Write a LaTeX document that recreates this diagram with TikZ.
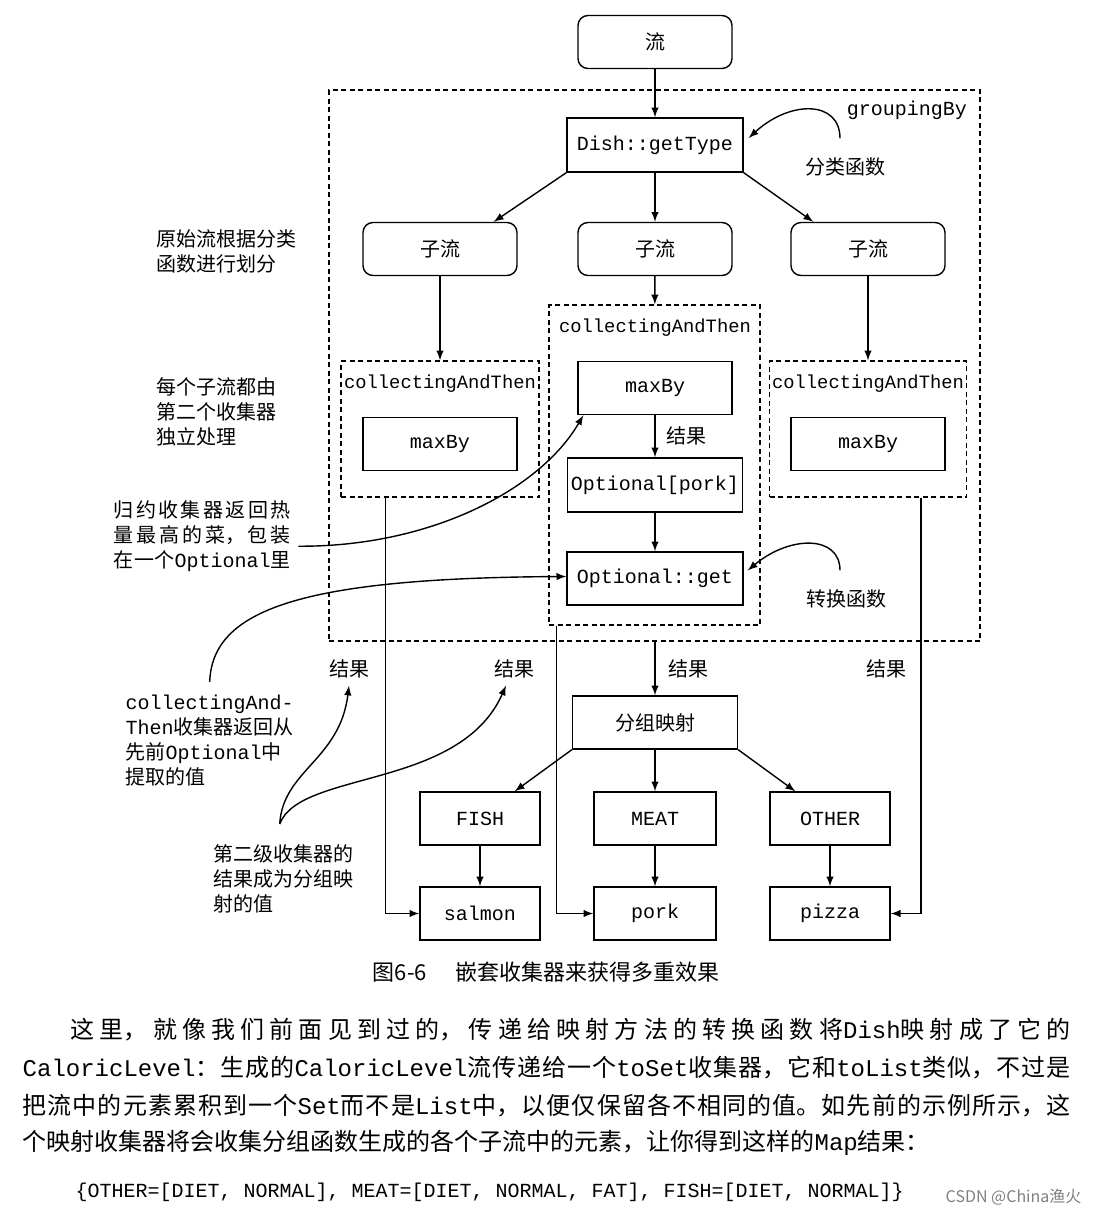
\documentclass[tikz,border=0pt]{standalone}
\usepackage{fontspec}
\setmainfont{Noto Sans CJK SC}
\setmonofont{Liberation Mono}
\XeTeXlinebreaklocale "zh"
\XeTeXlinebreakskip=0pt plus 2pt
\begin{document}
\begin{tikzpicture}[x=0.5pt,y=-0.5pt,line width=0.7pt,font=\fontsize{10}{12.5}\selectfont]
\tikzstyle{box}=[draw,rectangle,inner sep=0pt,minimum width=77pt,minimum height=26.5pt,font=\ttfamily\fontsize{10}{12}\selectfont]
\tikzstyle{rbox}=[box,rounded corners=5pt,font=\fontsize{10}{12}\selectfont]
\tikzstyle{dbox}=[draw,rectangle,inner sep=0pt,line width=0.6pt,dash pattern=on 2.5pt off 1.75pt]
\tikzstyle{code}=[font=\ttfamily\fontsize{9.4}{11}\selectfont]
\tikzstyle{arr}=[->,>=latex]
\tikzstyle{note}=[anchor=north west,inner sep=0pt,align=left]
\tikzstyle{para}=[anchor=west,inner sep=0pt,align=justify,font=\fontsize{12}{15}\selectfont]
\useasboundingbox (0,0) rectangle (1098,1216);

% dashed containers
\node[dbox,minimum width=325.5pt,minimum height=275.5pt] (grp) at (654.5,365.5) {};
\node[dbox,minimum width=99pt,minimum height=68pt] (catL) at (440,429) {};
\node[dbox,minimum width=105.5pt,minimum height=160pt] (catM) at (654.5,465) {};
\node[dbox,minimum width=98.5pt,minimum height=68pt] (catR) at (868,429) {};
\node[code,font=\ttfamily\fontsize{10}{12}\selectfont] (lblG) at (907,110) {groupingBy};
\node[code] (lblL) at (440,384) {collectingAndThen};
\node[code] (lblM) at (655,328) {collectingAndThen};
\node[code] (lblR) at (868,384) {collectingAndThen};

% boxes
\node[rbox] (src) at (655,42) {流};
\node[box,minimum width=88pt,minimum height=27pt] (key) at (655,145) {Dish::getType};
\node[rbox] (subL) at (440,249) {子流};
\node[rbox] (subM) at (655,249) {子流};
\node[rbox] (subR) at (868,249) {子流};
\node[box] (maxL) at (440,444) {maxBy};
\node[box] (maxM) at (655,388) {maxBy};
\node[box] (maxR) at (868,444) {maxBy};
\node[box,minimum width=87.5pt,minimum height=27pt] (opt) at (655,485) {Optional[pork]};
\node[box,minimum width=88pt] (get) at (655,578.5) {Optional::get};
\node[box,minimum width=82.5pt,font=\fontsize{10}{12}\selectfont] (map) at (655,722.5) {分组映射};
\node[box,minimum width=60pt] (fish) at (480,818.5) {FISH};
\node[box,minimum width=61pt] (meat) at (655,818.5) {MEAT};
\node[box,minimum width=60pt] (other) at (830,818.5) {OTHER};
\node[box,minimum width=60pt] (salmon) at (480,913.5) {salmon};
\node[box,minimum width=61pt] (pork) at (655,913.5) {pork};
\node[box,minimum width=60pt] (pizza) at (830,913.5) {pizza};

% labels
\node (cls) at (845,167) {分类函数};
\node (conv) at (846,599) {转换函数};
\node (res1) at (349,669) {结果};
\node (res2) at (514,669) {结果};
\node (res4) at (886,669) {结果};
\node[note] (n1) at (156,229) {原始流根据分类\\函数进行划分};
\node[note] (n2) at (156,377) {每个子流都由\\第二个收集器\\独立处理};
\node[note,align=justify,text width=88.5pt] (n3) at (113,500) {\parfillskip=0pt 归约收集器返回热\par 量最高的菜，包装\par 在一个\texttt{Optional}里\par};
\node[note] (n4) at (125,694) {\texttt{collectingAnd-}\\\texttt{Then}收集器返回从\\先前\texttt{Optional}中\\提取的值};
\node[note] (n5) at (213,844) {第二级收集器的\\结果成为分组映\\射的值};

% connectors
\draw[arr] (src) -- (key);
\draw[arr] (key.south west) -- ([xshift=-12pt]subL.north east);
\draw[arr] (key) -- (subM);
\draw[arr] (key.south east) -- ([xshift=11.5pt]subR.north west);
\draw[arr] (subL) -- (catL);
\draw[arr] (subM) -- (catM);
\draw[arr] (subR) -- (catR);
\draw[arr] (maxM) -- node[right=2pt] {结果} (opt);
\draw[arr] (opt) -- (get);
\draw[arr] (grp.south -| map.north) -- node[right=3pt] {结果} (map);
\draw[arr] (map.south west) -- ([xshift=-13pt]fish.north east);
\draw[arr] (map) -- (meat);
\draw[arr] (map.south east) -- ([xshift=13pt]other.north west);
\draw[arr] (fish) -- (salmon);
\draw[arr] (meat) -- (pork);
\draw[arr] (other) -- (pizza);
\draw[arr] ([xshift=22.5pt]catL.south west) |- (salmon.west);
\draw[arr] ([xshift=4pt]catM.south west) |- (pork.west);
\draw[arr] ([xshift=-23pt]catR.south east) |- (pizza.east);

% annotation curves
\draw[arr] ([shift={(-2.5pt,6pt)}]cls.north) .. controls (840,100) and (790,100) .. ([shift={(2.5pt,3.5pt)}]key.east);
\draw[arr] ([shift={(-3pt,6pt)}]conv.north) .. controls (840,535) and (790,535) .. ([shift={(2pt,4pt)}]get.east);
\draw[arr] ([shift={(3.5pt,-5pt)}]n3.east) .. controls (430,547) and (540,490) .. ([xshift=3pt]maxM.south west);
\draw[arr] ([yshift=6pt]n4.north) .. controls (212,610) and (300,578) .. ([yshift=1pt]get.west);
\draw[arr] ([shift={(-2pt,10pt)}]n5.north) .. controls (283,770) and (340,760) .. (res1.south);
\draw[arr] ([shift={(-2pt,10pt)}]n5.north) .. controls (300,770) and (460,790) .. ([xshift=-4pt]res2.south);

% caption and text below
\node[font=\fontsize{11}{13}\selectfont] (cap) at (546,972) {图6-6\hspace{14pt}嵌套收集器来获得多重效果};
\node[para,text width=500pt] (p1) at (70,1030) {\parfillskip=0pt 这里，就像我们前面见到过的，传递给映射方法的转换函数将\texttt{Dish}映射成了它的\par};
\node[para,text width=524pt] (p2) at (22,1068) {\parfillskip=0pt \texttt{CaloricLevel}：生成的\texttt{CaloricLevel}流传递给一个\texttt{toSet}收集器，它和\texttt{toList}类似，不过是\par};
\node[para,text width=524pt] (p3) at (22,1106) {\parfillskip=0pt 把流中的元素累积到一个\texttt{Set}而不是\texttt{List}中，以便仅保留各不相同的值。如先前的示例所示，这\par};
\node[anchor=west,inner sep=0pt,font=\fontsize{12}{15}\selectfont] (p4) at (22,1143) {个映射收集器将会收集分组函数生成的各个子流中的元素，让你得到这样的\texttt{Map}结果：};
\node[anchor=west,inner sep=0pt,font=\ttfamily\fontsize{10}{12}\selectfont] (res) at (75,1192) {\{OTHER=[DIET, NORMAL], MEAT=[DIET, NORMAL, FAT], FISH=[DIET, NORMAL]\}};
\node[anchor=west,inner sep=0pt,text=gray,font=\fontsize{8}{10}\selectfont] (wm) at (945,1197) {CSDN @China渔火};
\end{tikzpicture}
\end{document}
